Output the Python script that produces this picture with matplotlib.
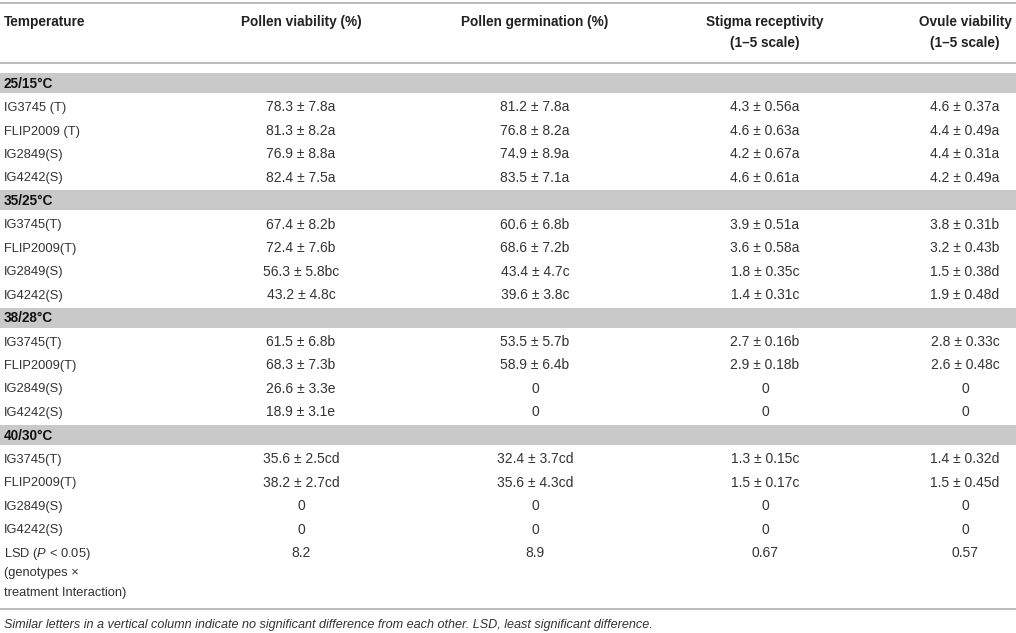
import matplotlib
matplotlib.use("Agg")
import matplotlib.pyplot as plt

plt.rcParams['font.family'] = ['Liberation Sans', 'DejaVu Sans']
plt.rcParams['mathtext.fontset'] = 'custom'
plt.rcParams['mathtext.rm'] = 'Liberation Sans'
plt.rcParams['mathtext.it'] = 'Liberation Sans:italic'

# table content
headers = ["Pollen viability (%)", "Pollen germination (%)",
           "Stigma receptivity\n(1\u20135 scale)", "Ovule viability\n(1\u20135 scale)"]
temperatures = ["25/15\u00b0C", "35/25\u00b0C", "38/28\u00b0C", "40/30\u00b0C"]
genotypes = [
    ["IG3745 (T)", "FLIP2009 (T)", "IG2849(S)", "IG4242(S)"],
    ["IG3745(T)", "FLIP2009(T)", "IG2849(S)", "IG4242(S)"],
    ["IG3745(T)", "FLIP2009(T)", "IG2849(S)", "IG4242(S)"],
    ["IG3745(T)", "FLIP2009(T)", "IG2849(S)", "IG4242(S)"],
]
pollen_viability = [
    ["78.3 \u00b1 7.8a", "81.3 \u00b1 8.2a", "76.9 \u00b1 8.8a", "82.4 \u00b1 7.5a"],
    ["67.4 \u00b1 8.2b", "72.4 \u00b1 7.6b", "56.3 \u00b1 5.8bc", "43.2 \u00b1 4.8c"],
    ["61.5 \u00b1 6.8b", "68.3 \u00b1 7.3b", "26.6 \u00b1 3.3e", "18.9 \u00b1 3.1e"],
    ["35.6 \u00b1 2.5cd", "38.2 \u00b1 2.7cd", "0", "0"],
]
pollen_germination = [
    ["81.2 \u00b1 7.8a", "76.8 \u00b1 8.2a", "74.9 \u00b1 8.9a", "83.5 \u00b1 7.1a"],
    ["60.6 \u00b1 6.8b", "68.6 \u00b1 7.2b", "43.4 \u00b1 4.7c", "39.6 \u00b1 3.8c"],
    ["53.5 \u00b1 5.7b", "58.9 \u00b1 6.4b", "0", "0"],
    ["32.4 \u00b1 3.7cd", "35.6 \u00b1 4.3cd", "0", "0"],
]
stigma_receptivity = [
    ["4.3 \u00b1 0.56a", "4.6 \u00b1 0.63a", "4.2 \u00b1 0.67a", "4.6 \u00b1 0.61a"],
    ["3.9 \u00b1 0.51a", "3.6 \u00b1 0.58a", "1.8 \u00b1 0.35c", "1.4 \u00b1 0.31c"],
    ["2.7 \u00b1 0.16b", "2.9 \u00b1 0.18b", "0", "0"],
    ["1.3 \u00b1 0.15c", "1.5 \u00b1 0.17c", "0", "0"],
]
ovule_viability = [
    ["4.6 \u00b1 0.37a", "4.4 \u00b1 0.49a", "4.4 \u00b1 0.31a", "4.2 \u00b1 0.49a"],
    ["3.8 \u00b1 0.31b", "3.2 \u00b1 0.43b", "1.5 \u00b1 0.38d", "1.9 \u00b1 0.48d"],
    ["2.8 \u00b1 0.33c", "2.6 \u00b1 0.48c", "0", "0"],
    ["1.4 \u00b1 0.32d", "1.5 \u00b1 0.45d", "0", "0"],
]
lsd_label = ["LSD ($P$ < 0.05)", "(genotypes \u00d7", "treatment Interaction)"]
lsd_values = ["8.2", "8.9", "0.67", "0.57"]
caption = ("Similar letters in a vertical column indicate no significant difference "
           "from each other. LSD, least significant difference.")

columns = [pollen_viability, pollen_germination, stigma_receptivity, ovule_viability]

W, H = 1016, 633
fig = plt.figure(figsize=(W / 100, H / 100), dpi=100)
ax = fig.add_axes([0, 0, 1, 1])
ax.set_xlim(0, W)
ax.set_ylim(H, 0)
ax.axis("off")

col_x = [301, 535, 765, 965]
left = 4
line_col = "#b4b4b4"
band_col = "#c9c9c9"
txt_col = "#333333"
fs_name = 9.3
fs_val = 10.0
fs_head = 9.8


def put(x, yc, s, size, **kw):
    # place text by its cap-height centre, on a common baseline
    base = yc + 0.36 * size * 100 / 72
    ax.text(x, base, s, fontsize=size, va="baseline", **kw)


# header
ax.axhline(2.5, color=line_col, lw=1.3)
put(left, 21, "Temperature", fs_head, fontweight="bold", color="#222222")
for x, h in zip(col_x, headers):
    for k, part in enumerate(h.split("\n")):
        put(x, 21 + 21 * k, part, fs_head, fontweight="bold", ha="center", color="#222222")
ax.axhline(63, color=line_col, lw=1.3)

# body
y0 = 83
pitch = 23.45
row = 0
for b, temp in enumerate(temperatures):
    y = y0 + row * pitch
    ax.axhspan(y - 10, y + 10, color=band_col, lw=0)
    put(left, y, temp, fs_head, fontweight="bold", color="#111111")
    row += 1
    for g, name in enumerate(genotypes[b]):
        y = y0 + row * pitch
        put(left, y, name, fs_name, color=txt_col)
        for x, col in zip(col_x, columns):
            put(x, y, col[b][g], fs_val, ha="center", color=txt_col)
        row += 1

y = y0 + row * pitch
for k, part in enumerate(lsd_label):
    put(left, y + 19.5 * k, part, fs_name, color=txt_col)
for x, v in zip(col_x, lsd_values):
    put(x, y, v, fs_val, ha="center", color=txt_col)

ax.axhline(609, color=line_col, lw=1.3)
put(left, 623, caption, 9.1, style="italic", color="#333333")

fig.savefig("out.png", dpi=100)
